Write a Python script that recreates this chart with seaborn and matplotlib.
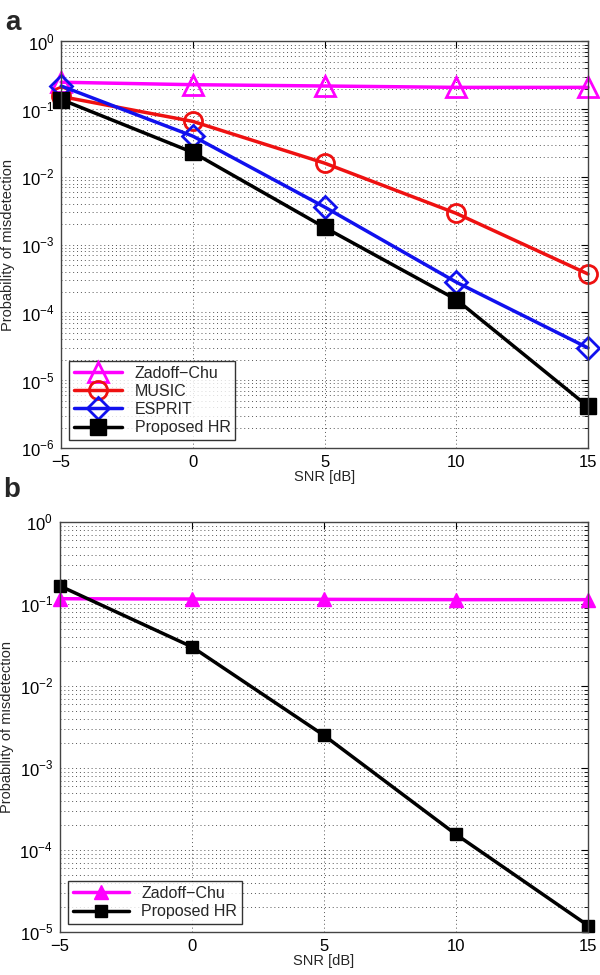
import numpy as np
import pandas as pd
import matplotlib
matplotlib.use("Agg")
import matplotlib.pyplot as plt
import matplotlib.ticker as mticker
import seaborn as sns

snr = [-5, 0, 5, 10, 15]

# panel a
zc_a = [0.25, 0.23, 0.22, 0.21, 0.21]
music_a = [0.154, 0.066, 0.016, 0.0029, 3.7e-4]
esprit_a = [0.22, 0.040, 0.0036, 2.8e-4, 3.0e-5]
hr_a = [0.139, 0.023, 1.8e-3, 1.55e-4, 4.1e-6]

# panel b
zc_b = [0.116, 0.115, 0.114, 0.113, 0.113]
hr_b = [0.166, 0.030, 0.0025, 1.55e-4, 1.2e-5]

sns.set_style("white")
plt.rcParams["font.family"] = ["Liberation Sans", "DejaVu Sans"]
plt.rcParams["mathtext.fontset"] = "custom"
plt.rcParams["mathtext.rm"] = "Liberation Sans"

fig = plt.figure(figsize=(6, 9.75), dpi=100)
ax_a = fig.add_axes([0.102, 0.5405, 0.878, 0.417])
ax_b = fig.add_axes([0.100, 0.0441, 0.880, 0.4205])


def style_axis(ax, lo, hi):
    ax.set_yscale("log")
    ax.set_xlim(-5, 15)
    ax.set_ylim(10.0 ** lo, 10.0 ** hi)
    ax.set_xticks(snr)
    decades = np.arange(lo, hi + 1)
    ax.set_yticks(10.0 ** decades, [f"$10^{{{d}}}$" for d in decades])
    minors = [m * 10.0 ** d for d in decades[:-1] for m in range(2, 10)]
    ax.set_yticks(minors, minor=True)
    ax.yaxis.set_minor_formatter(mticker.NullFormatter())
    ax.grid(True, which="major", axis="x", linestyle=(0, (1, 3)), color="#555555", linewidth=0.7)
    ax.grid(True, which="both", axis="y", linestyle=(0, (1, 3)), color="#555555", linewidth=0.7)
    ax.tick_params(axis="both", which="both", direction="in", top=True, right=True,
                   labelsize=12, colors="black")
    ax.tick_params(axis="x", which="major", pad=5)
    ax.tick_params(axis="y", which="major", pad=5)
    ax.tick_params(which="major", length=5)
    ax.tick_params(which="minor", length=3)
    for s in ax.spines.values():
        s.set_color("#444444")
        s.set_linewidth(1.0)
    ax.set_xlabel("SNR [dB]", fontsize=10.5, labelpad=0)
    ax.set_ylabel("Probability of misdetection", fontsize=10.5, labelpad=4)


def draw(ax, y, color, marker, ms, filled, label, mew=2):
    sns.lineplot(x=snr, y=y, ax=ax, color=color, marker=marker, markersize=ms,
                 markerfacecolor=color if filled else "none", markeredgecolor=color,
                 markeredgewidth=mew, linewidth=2.5, label=label)


draw(ax_a, zc_a, "#ff00ff", "^", 15, False, "Zadoff\u2212Chu")
draw(ax_a, music_a, "#ee1111", "o", 13, False, "MUSIC")
draw(ax_a, esprit_a, "#1111ee", "D", 11, False, "ESPRIT")
draw(ax_a, hr_a, "black", "s", 12, True, "Proposed HR", mew=1)
for line in ax_a.lines:
    line.set_clip_on(False)
style_axis(ax_a, -6, 0)
ax_a.legend(loc="lower left", fontsize=11.5, frameon=True, fancybox=False, edgecolor="black",
            borderaxespad=0.5, handlelength=3.0, labelspacing=0.2, borderpad=0.3)

draw(ax_b, zc_b, "#ff00ff", "^", 10, True, "Zadoff\u2212Chu", mew=1)
draw(ax_b, hr_b, "black", "s", 8, True, "Proposed HR", mew=1)
for line in ax_b.lines:
    line.set_clip_on(False)
style_axis(ax_b, -5, 0)
ax_b.legend(loc="lower left", fontsize=11.5, frameon=True, fancybox=False, edgecolor="black",
            borderaxespad=0.5, handlelength=3.5, labelspacing=0.2, borderpad=0.3)

fig.text(0.008, 0.99, "a", fontsize=20, fontweight="bold", va="top")
fig.text(0.006, 0.511, "b", fontsize=20, fontweight="bold", va="top")

fig.savefig("out.png", dpi=100, facecolor="white")
